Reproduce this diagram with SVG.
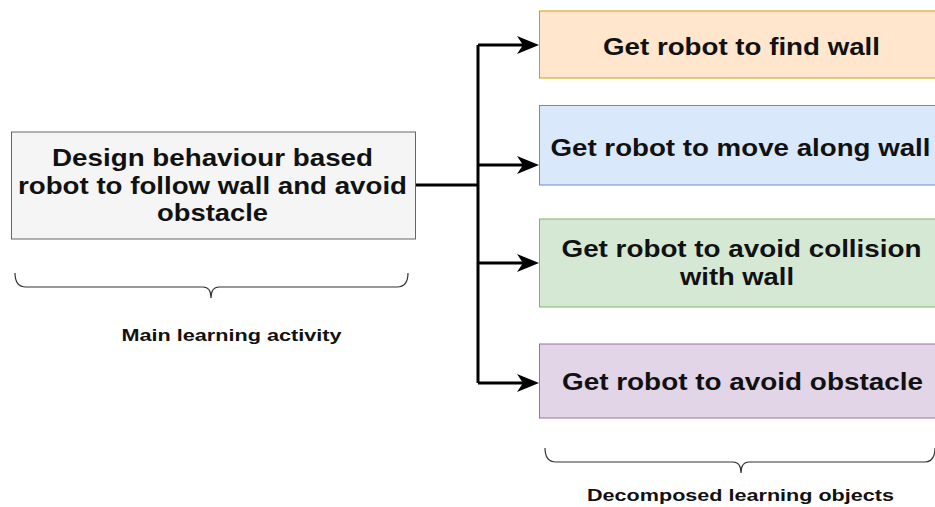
<svg xmlns="http://www.w3.org/2000/svg" width="935" height="507" viewBox="0 0 935 507">
<defs>
<style>
.t{font-family:"Liberation Sans",Arial,sans-serif;font-weight:bold;fill:#111;text-anchor:middle}
.big{font-size:24px}
.sm{font-size:17px}
.c{fill:none;stroke:#000;stroke-width:3}
.b{fill:none;stroke:#333;stroke-width:1.2}
</style>
<marker id="ah" viewBox="0 0 22 20" refX="13" refY="10" markerWidth="22" markerHeight="20" orient="auto" markerUnits="userSpaceOnUse">
<path d="M0,1 L22,10 L0,19 L6,10 Z" fill="#000"/>
</marker>
</defs>
<rect width="935" height="507" fill="#fff"/>
<g id="main">
<rect x="11.5" y="132" width="404" height="107" fill="#f5f5f5" stroke="#666"/>
<text class="t big" x="212.5" y="166" textLength="321" lengthAdjust="spacingAndGlyphs">Design behaviour based</text>
<text class="t big" x="212.5" y="193.5" textLength="389" lengthAdjust="spacingAndGlyphs">robot to follow wall and avoid</text>
<text class="t big" x="212.5" y="220.5" textLength="111" lengthAdjust="spacingAndGlyphs">obstacle</text>
</g>
<g id="n1">
<rect x="539.5" y="11" width="400" height="67" fill="#ffe6cc" stroke="#d79b00"/>
<text class="t big" x="741.5" y="54.5" textLength="277" lengthAdjust="spacingAndGlyphs">Get robot to find wall</text>
</g>
<g id="n2">
<rect x="539.5" y="105.5" width="400" height="79.5" fill="#dae8fc" stroke="#6c8ebf"/>
<text class="t big" x="740.5" y="155.5" textLength="380" lengthAdjust="spacingAndGlyphs">Get robot to move along wall</text>
</g>
<g id="n3">
<rect x="539.5" y="219" width="400" height="88" fill="#d5e8d4" stroke="#82b366"/>
<text class="t big" x="741.5" y="257" textLength="360" lengthAdjust="spacingAndGlyphs">Get robot to avoid collision</text>
<text class="t big" x="737" y="285" textLength="114" lengthAdjust="spacingAndGlyphs">with wall</text>
</g>
<g id="n4">
<rect x="539.5" y="344" width="400" height="74" fill="#e1d5e7" stroke="#9673a6"/>
<text class="t big" x="742.5" y="390" textLength="361" lengthAdjust="spacingAndGlyphs">Get robot to avoid obstacle</text>
</g>
<g id="connectors">
<path class="c" d="M416,185 H478"/>
<path class="c" d="M478,45 V383"/>
<path class="c" d="M478,45 H530" marker-end="url(#ah)"/>
<path class="c" d="M478,165 H530" marker-end="url(#ah)"/>
<path class="c" d="M478,263 H530" marker-end="url(#ah)"/>
<path class="c" d="M478,383 H530" marker-end="url(#ah)"/>
</g>
<g id="brace1">
<path class="b" d="M15,273 Q15,287 26,287 H203 Q211,287 211,298 Q211,287 219,287 H397 Q408,287 408,273"/>
<text class="t sm" x="231.5" y="340.5" textLength="220" lengthAdjust="spacingAndGlyphs">Main learning activity</text>
</g>
<g id="brace2">
<path class="b" d="M545,448 Q545,462 556,462 H733 Q741,462 741,473 Q741,462 749,462 H924 Q935,462 935,448"/>
<text class="t sm" x="740.5" y="501" textLength="307" lengthAdjust="spacingAndGlyphs">Decomposed learning objects</text>
</g>
</svg>
